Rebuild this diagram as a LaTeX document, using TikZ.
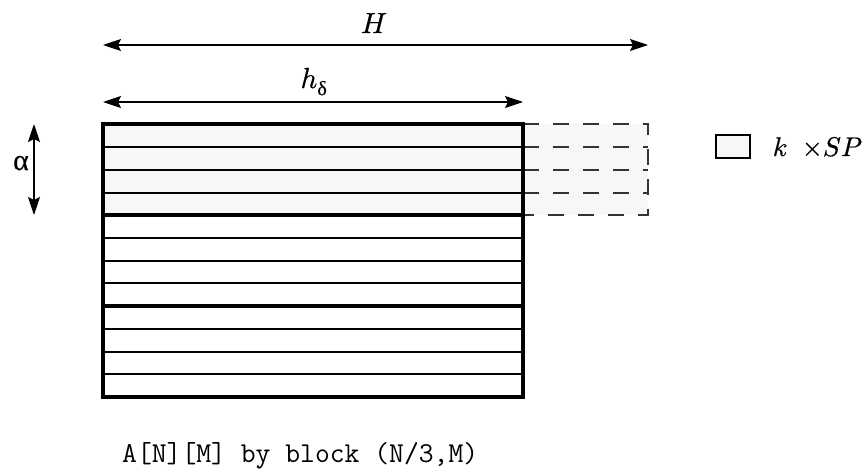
\documentclass[tikz,border=0pt]{standalone}
\usepackage{amsmath}
\usepackage{fontspec}
\usepackage{unicode-math}
\setmathfont{Latin Modern Math}[FakeBold=0.6]
\newfontfamily\grk{Liberation Serif}[FakeBold=0.3]
\usetikzlibrary{arrows.meta}
\definecolor{lightfill}{HTML}{F7F7F7}
\tikzset{
  dimarrow/.style={line width=1.2pt,{Stealth[length=18pt,width=12pt,inset=3pt]}-{Stealth[length=18pt,width=12pt,inset=3pt]}},
  thickbox/.style={line width=3.8pt},
  rowline/.style={line width=1.4pt},
  dashline/.style={line width=1.2pt,draw=black!80,dash pattern=on 16pt off 14pt},
  lbl/.style={inner sep=0pt,anchor=base},
}
\begin{document}
\begin{tikzpicture}[x=1pt,y=-1pt]
\useasboundingbox (0,0) rectangle (863,469);
% fills
\fill[lightfill] (103,124) rectangle (648,215);
% dashed extension
\draw[dashline] (523,124) -- (648,124) -- (648,215) -- (523,215);
\foreach \y in {147,170,193} \draw[dashline] (523,\y) -- (648,\y);
% row lines
\foreach \y in {147,170,193,238,261,283,329,352,374} \draw[rowline] (103,\y) -- (523,\y);
% thick blocks
\draw[thickbox] (103,124) rectangle (523,397);
\draw[thickbox] (103,215) -- (523,215);
\draw[thickbox] (103,306) -- (523,306);
% coordinates for dimensions
\coordinate (hl) at (103,45);
\coordinate (hr) at (648,45);
\coordinate (dl) at (103,102);
\coordinate (dr) at (523,102);
\coordinate (at) at (34,124);
\coordinate (ab) at (34,215);
\draw[dimarrow] (hl) -- (hr);
\draw[dimarrow] (dl) -- (dr);
\draw[dimarrow] (at) -- (ab);
\node[lbl] (H) at (374,33) {\fontsize{29}{34}\selectfont $H$};
\node[lbl] (hd) at (314,88) {\fontsize{29}{34}\selectfont $h_{\text{\grk δ}}$};
\node[lbl] (alpha) at (21,170) {\fontsize{30}{34}\selectfont\grk α};
% legend
\draw[line width=1.2pt,fill=lightfill] (716,135) rectangle (750,158);
\node[lbl] (k) at (780,156) {\fontsize{27}{30}\selectfont $k$};
\node[lbl] (sp) at (832,156) {\fontsize{27}{30}\selectfont $\times SP$};
% caption
\node[lbl,anchor=base west] (cap) at (122,462) {\fontsize{28.8}{32}\selectfont\ttfamily A[N][M] by block (N/3,M)};
\end{tikzpicture}
\end{document}
